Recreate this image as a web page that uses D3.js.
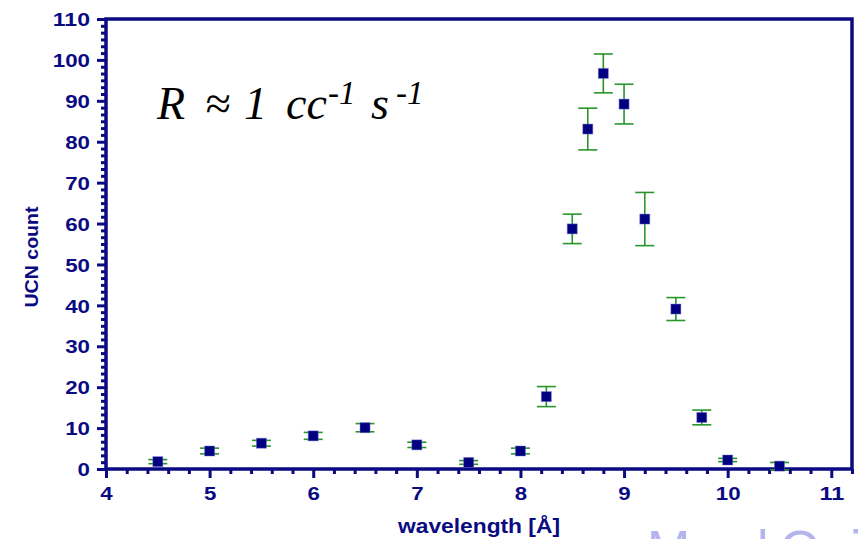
<!DOCTYPE html>
<html>
<head>
<meta charset="utf-8">
<script src="https://cdn.jsdelivr.net/npm/d3@7"></script>
<style>
  html, body { margin: 0; padding: 0; background: #ffffff; }
  svg { display: block; }
</style>
</head>
<body>
<svg id="chart" width="860" height="539"></svg>
<script>
// ---- data ----
const wavelength = [4.5, 5, 5.5, 6, 6.5, 7, 7.5, 8, 8.25, 8.5, 8.65, 8.8, 9, 9.2, 9.5, 9.75, 10, 10.5];
const counts     = [1.8, 4.4, 6.3, 8.1, 10.1, 5.9, 1.6, 4.4, 17.7, 58.7, 83.1, 96.7, 89.2, 61.1, 39.1, 12.6, 2.2, 0.7];
const errors     = [0.5, 0.7, 0.7, 0.85, 1.0, 0.65, 0.45, 0.7, 2.45, 3.6, 5.1, 4.75, 4.85, 6.5, 2.8, 1.8, 0.4, 0.9];
const xTicks = [4, 5, 6, 7, 8, 9, 10, 11];
const yTicks = [0, 10, 20, 30, 40, 50, 60, 70, 80, 90, 100, 110];
const xTitle = "wavelength [Å]";
const yTitle = "UCN count";

const navy = "#0a0a82";
const green = "#1f8f1f";

const svg = d3.select("#chart");
const margin = { left: 106, top: 19, right: 8, bottom: 70 };
const W = 860, H = 539;
const x = d3.scaleLinear().domain([4, 11.2]).range([margin.left, W - margin.right]);
const y = d3.scaleLinear().domain([0, 110]).range([H - margin.bottom, margin.top]);

function fitTo(sel, len) {
  sel.attr("textLength", len).attr("lengthAdjust", "spacingAndGlyphs");
}

// watermark
svg.append("text")
  .attr("x", "647 700 757 780 850")
  .attr("y", 567)
  .attr("font-family", "Liberation Sans, Arial, sans-serif")
  .attr("font-size", 52)
  .attr("fill", "#b4b4ee")
  .text("MelOi");

// minor ticks
const xMinor = d3.range(4, 11.2001, 0.2).filter(v => Math.abs(v - Math.round(v)) > 1e-6);
const yMinor = d3.range(0, 110.0001, 10 / 6).filter(v => Math.abs(v / 10 - Math.round(v / 10)) > 1e-6);

const gxMinor = svg.append("g").attr("transform", `translate(0,${y(0)})`)
  .call(d3.axisBottom(x).tickValues(xMinor).tickSize(5).tickFormat(""));
const gyMinor = svg.append("g").attr("transform", `translate(${x(4)},0)`)
  .call(d3.axisLeft(y).tickValues(yMinor).tickSize(5).tickFormat(""));

const gx = svg.append("g").attr("transform", `translate(0,${y(0)})`)
  .call(d3.axisBottom(x).tickValues(xTicks).tickSize(9).tickPadding(9).tickFormat(d3.format("d")));
const gy = svg.append("g").attr("transform", `translate(${x(4)},0)`)
  .call(d3.axisLeft(y).tickValues(yTicks).tickSize(9).tickPadding(7).tickFormat(d3.format("d")));

[gxMinor, gyMinor, gx, gy].forEach(g => {
  g.select(".domain").remove();
  g.selectAll(".tick line").attr("stroke", navy).attr("stroke-width", 3);
});
[gx, gy].forEach(g => {
  g.selectAll(".tick text")
    .attr("fill", navy)
    .attr("font-family", "Liberation Sans, Arial, sans-serif")
    .attr("font-weight", "bold")
    .attr("font-size", 18.5)
    .each(function (d) {
      const n = String(d).length;
      d3.select(this).attr("textLength", n * 12.4).attr("lengthAdjust", "spacingAndGlyphs");
    });
});
gy.selectAll(".tick text").attr("dy", "0.36em");
gx.selectAll(".tick text").attr("dy", "0.71em");

// frame
svg.append("rect")
  .attr("x", x(4)).attr("y", y(110))
  .attr("width", x(11.2) - x(4)).attr("height", y(0) - y(110))
  .attr("fill", "none").attr("stroke", navy).attr("stroke-width", 3.5);

// data
const pts = wavelength.map((w, i) => ({ w, c: counts[i], e: errors[i] }));
const eb = svg.append("g");
pts.forEach(d => {
  const g = eb.append("g").attr("stroke", green).attr("stroke-width", 1.6).attr("stroke-opacity", 0.95);
  g.append("line").attr("x1", x(d.w)).attr("x2", x(d.w)).attr("y1", y(d.c - d.e)).attr("y2", y(d.c + d.e));
  g.append("line").attr("x1", x(d.w) - 9.5).attr("x2", x(d.w) + 9.5).attr("y1", y(d.c + d.e)).attr("y2", y(d.c + d.e));
  g.append("line").attr("x1", x(d.w) - 9.5).attr("x2", x(d.w) + 9.5).attr("y1", y(d.c - d.e)).attr("y2", y(d.c - d.e));
});
svg.append("g").selectAll("rect").data(pts).join("rect")
  .attr("x", d => x(d.w) - 5).attr("y", d => y(d.c) - 5)
  .attr("width", 10).attr("height", 10)
  .attr("fill", "#000080")
  .attr("stroke", "rgba(110,110,210,0.45)").attr("stroke-width", 1);

// axis titles
const xt = svg.append("text")
  .attr("x", 479).attr("y", 533)
  .attr("text-anchor", "middle")
  .attr("fill", navy)
  .attr("font-family", "Liberation Sans, Arial, sans-serif")
  .attr("font-weight", "bold").attr("font-size", 20)
  .text(xTitle);
fitTo(xt, 162);

const yt = svg.append("text")
  .attr("transform", `translate(38,257) rotate(-90)`)
  .attr("text-anchor", "middle")
  .attr("fill", navy)
  .attr("font-family", "Liberation Sans, Arial, sans-serif")
  .attr("font-weight", "bold").attr("font-size", 18)
  .text(yTitle);
fitTo(yt, 101);

// annotation
const ann = svg.append("g")
  .attr("font-family", "Liberation Serif, Times New Roman, serif")
  .attr("font-style", "italic")
  .attr("fill", "#000");
const annMain = [["R", 157], ["≈", 205], ["1", 244], ["cc", 286], ["s", 371]];
const annSup = [["-1", 328], ["-1", 396]];
annMain.forEach(([t, px]) => ann.append("text").attr("x", px).attr("y", 119).attr("font-size", 46).text(t));
annSup.forEach(([t, px]) => ann.append("text").attr("x", px).attr("y", 104).attr("font-size", 33).text(t));
</script>
</body>
</html>
